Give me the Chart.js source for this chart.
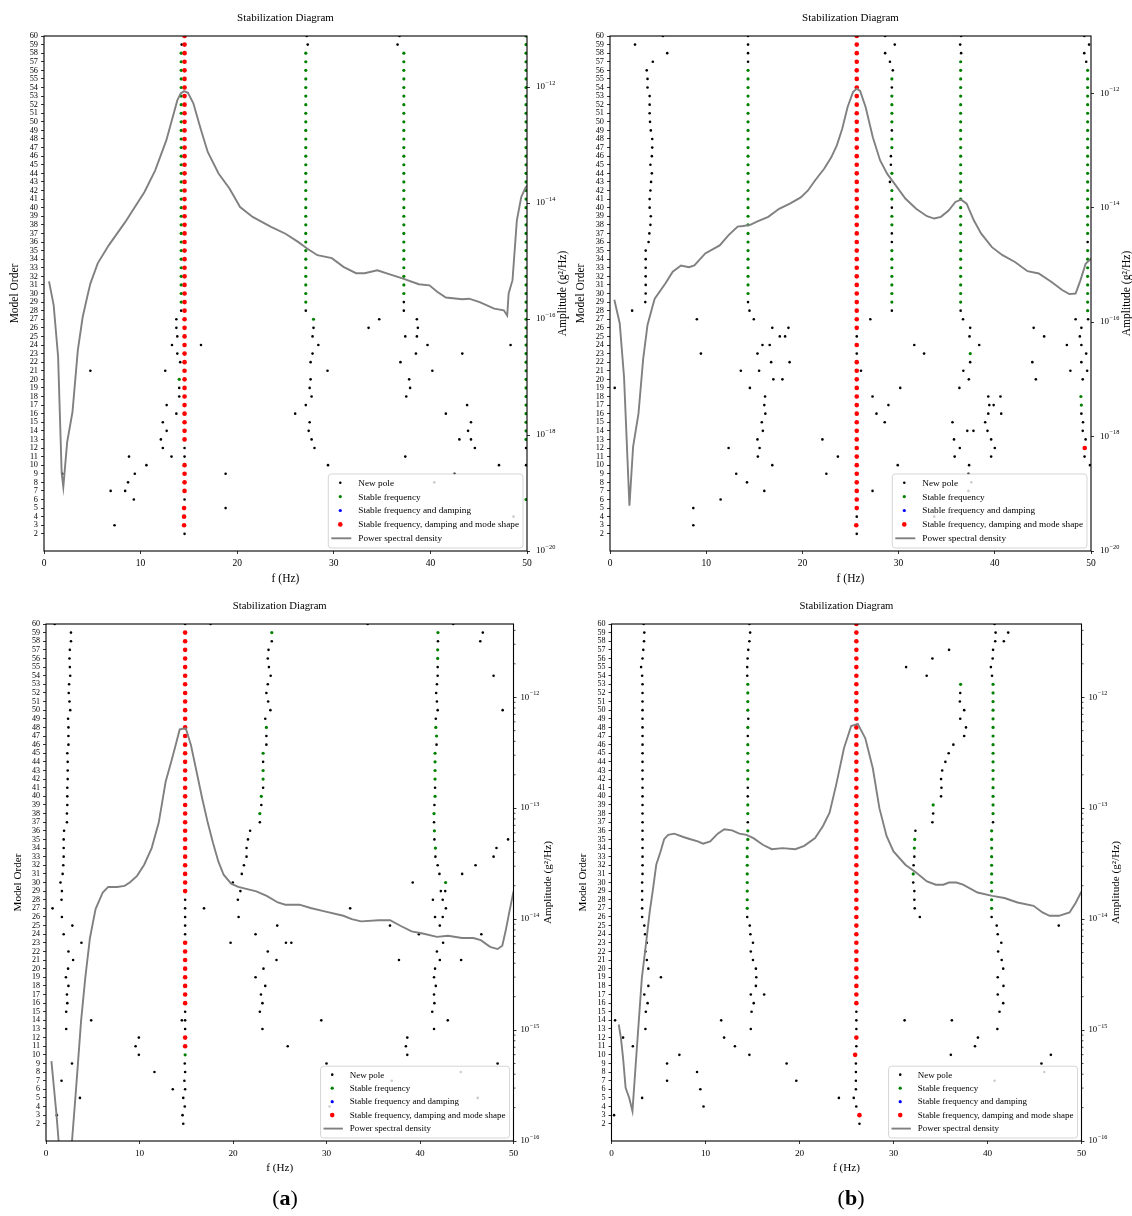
<!DOCTYPE html>
<html>
<head>
<meta charset="utf-8">
<title>Stabilization Diagrams</title>
<script src="https://cdn.jsdelivr.net/npm/chart.js@4.4.1/dist/chart.umd.min.js"></script>
<style>
  html, body { margin: 0; padding: 0; background: #fff; }
  #page { position: relative; width: 1132px; height: 1216px; overflow: hidden; background: #fff; }
  canvas { position: absolute; }
  .tag { position: absolute; top: 1185px; width: 60px; text-align: center; font: 22px "Liberation Serif", serif; color: #000; }
</style>
</head>
<body>
<div id="page">
  <canvas id="aTop" width="580" height="600" style="left:0px;top:0px"></canvas>
  <canvas id="bTop" width="557" height="600" style="left:575px;top:0px"></canvas>
  <canvas id="aBot" width="580" height="626" style="left:0px;top:590px"></canvas>
  <canvas id="bBot" width="557" height="626" style="left:575px;top:590px"></canvas>
  <div class="tag" style="left:255px">(<b>a</b>)</div>
  <div class="tag" style="left:821px">(<b>b</b>)</div>
</div>
<script>
// tick labels
var freqTicks = [0, 10, 20, 30, 40, 50];
var orderTicks = [2, 3, 4, 5, 6, 7, 8, 9, 10, 11, 12, 13, 14, 15, 16, 17, 18, 19, 20, 21, 22, 23, 24, 25, 26, 27, 28, 29, 30,
  31, 32, 33, 34, 35, 36, 37, 38, 39, 40, 41, 42, 43, 44, 45, 46, 47, 48, 49, 50, 51, 52, 53, 54, 55, 56, 57, 58, 59, 60];
var topAmpExp = [-20, -18, -16, -14, -12];
var botAmpExp = [-16, -15, -14, -13, -12];

// ---------- top left (a) ----------
// stable columns: [frequency, [model orders]]
var aTopStableAll = [
  [14.5, [3, 4, 5]],
  [14.55, [7, 8, 9, 10, 13, 14, 15, 16, 17, 18, 19, 20, 21, 22, 23, 24, 25, 26, 27, 28, 29, 30, 31, 32, 33, 34, 35, 36, 37,
    38, 39, 40, 41, 42, 43, 44, 45, 46, 47, 48, 49, 50, 51, 52, 53, 54, 55, 56, 57, 58, 59, 60]]
];
var aTopStableDamp = [];
var aTopStableFreq = [
  [14.2, [29, 30, 31, 32, 33, 34, 35, 36, 37, 38, 39, 40, 41, 42, 43, 44, 45, 46, 47, 48, 49, 50, 51, 52, 53, 54, 55, 56, 57, 58]],
  [14.0, [20]],
  [27.1, [29, 30, 31, 32, 33, 34, 35, 36, 37, 38, 39, 40, 41, 42, 43, 44, 45, 46, 47, 48, 49, 50, 51, 52, 53, 54, 55, 56, 57, 58]],
  [27.9, [27]],
  [37.25, [30, 31, 32, 33, 34, 35, 36, 37, 38, 39, 40, 41, 42, 43, 44, 45, 46, 47, 48, 49, 50, 51, 52, 53, 54, 55, 56, 57, 58]],
  [49.9, [6, 13, 14, 15, 16, 17, 18, 19, 20, 21, 22, 23, 24, 25, 26, 27, 28, 29, 30, 31, 32, 33, 34, 35, 36, 37, 38, 39, 40,
    41, 42, 43, 44, 45, 46, 47, 48, 49, 50, 51, 52, 53, 54, 55, 56, 57, 58, 59, 60]]
];
// new poles: [frequency, model order]
var aTopNewPole = [
  [27.2, 60], [36.8, 60], [14.25, 59], [27.3, 59], [36.6, 59],
  [14.2, 28], [27.1, 28], [37.25, 28], [37.25, 29],
  [13.7, 27], [34.7, 27], [38.6, 27],
  [13.7, 26], [27.9, 26], [33.6, 26], [38.7, 26],
  [13.8, 25], [27.8, 25], [37.4, 25], [38.6, 25],
  [13.25, 24], [16.25, 24], [28.4, 24], [39.7, 24], [48.3, 24],
  [13.8, 23], [27.8, 23], [38.5, 23], [43.3, 23],
  [14.1, 22], [27.6, 22], [36.9, 22],
  [4.8, 21], [12.55, 21], [29.35, 21], [40.2, 21],
  [27.6, 20], [37.8, 20],
  [14.0, 19], [27.5, 19], [37.9, 19],
  [14.0, 18], [27.7, 18], [37.5, 18],
  [12.7, 17], [27.1, 17], [43.8, 17],
  [13.7, 16], [26.0, 16], [41.6, 16],
  [12.3, 15], [27.5, 15], [44.2, 15],
  [12.7, 14], [27.4, 14], [43.9, 14],
  [12.1, 13], [27.7, 13], [43.0, 13], [44.2, 13],
  [12.3, 12], [14.55, 12], [28.0, 12], [44.6, 12], [49.9, 12],
  [8.8, 11], [13.2, 11], [14.55, 11], [37.4, 11],
  [10.6, 10], [29.4, 10], [47.1, 10], [49.9, 10],
  [1.9, 9], [9.4, 9], [18.8, 9], [42.5, 9],
  [8.7, 8], [40.4, 8], [6.9, 7], [8.4, 7], [9.3, 6], [14.55, 6],
  [18.8, 5], [48.6, 4], [7.3, 3], [14.55, 2]
];
var aTopPsdF = [0.52, 1.0, 1.46, 1.83, 2.0, 2.4, 2.95, 3.5, 4.0, 4.5, 4.8, 5.56, 6.7, 8.4, 10.4, 11.5, 12.66, 13.8, 14.15, 14.5,
  14.9, 15.46, 16.2, 16.95, 18.07, 19.2, 20.3, 21.6, 23.5, 25.0, 26.3, 27.2, 28.3, 29.8, 31.0, 32.3, 33.2, 34.5, 35.8, 37.1,
  38.8, 39.9, 40.7, 41.6, 43.3, 44.0, 45.1, 46.6, 47.6, 47.95, 48.1, 48.5, 48.95, 49.4, 49.8, 50];
var aTopPsdLog = [-15.35, -15.76, -16.65, -18.66, -18.9, -18.12, -17.6, -16.54, -15.97, -15.6, -15.39, -15.04, -14.73, -14.33,
  -13.81, -13.44, -12.92, -12.23, -12.11, -12.07, -12.1, -12.28, -12.71, -13.12, -13.49, -13.75, -14.07, -14.24, -14.41, -14.53,
  -14.67, -14.78, -14.9, -14.95, -15.1, -15.21, -15.21, -15.16, -15.23, -15.3, -15.4, -15.42, -15.53, -15.63, -15.66, -15.65,
  -15.71, -15.82, -15.85, -15.94, -15.56, -15.33, -14.3, -13.9, -13.75, -13.7];

// ---------- top right (b) ----------
var bTopStableAll = [
  [25.6, [3]],
  [25.65, [5, 6, 7, 8, 9, 10, 11, 12, 13, 14, 15, 16, 17, 18, 19, 20, 21, 22, 24, 26, 27, 28, 29, 30, 31, 32, 33, 34, 35, 36,
    37, 38, 39, 40, 41, 42, 43, 44, 45, 46, 47, 48, 49, 50, 51, 52, 53, 54, 55, 56, 57, 58, 59, 60]],
  [49.35, [12]]
];
var bTopStableDamp = [];
var bTopStableFreq = [
  [14.35, [30, 31, 32, 33, 34, 35, 36, 37, 38, 39, 40, 41, 42, 43, 44, 45, 46, 47, 48, 49, 50, 51, 52, 53, 54, 55, 56]],
  [29.3, [29, 30, 31, 32, 33, 34, 35, 38, 39, 41, 42, 44, 47, 48, 50, 51, 52, 53, 55]],
  [36.45, [29, 30, 31, 32, 33, 34, 35, 36, 37, 38, 39, 40, 41, 42, 43, 44, 45, 46, 47, 48, 49, 50, 51, 52, 53, 54, 55, 56, 57]],
  [37.45, [23]],
  [49.65, [28, 29, 30, 31, 32, 33, 34, 35, 37, 38, 39, 40, 41, 42, 43, 44, 45, 46, 47, 48, 49, 50, 51, 52, 53, 54, 55, 56]],
  [48.95, [18]], [49.0, [17]]
];
var bTopNewPole = [
  [14.35, 57], [14.35, 58], [14.35, 59], [14.35, 60], [14.35, 29], [14.5, 28], [14.95, 27],
  [25.65, 2], [25.65, 4], [25.65, 23], [25.65, 25],
  [29.3, 28], [29.3, 36], [29.3, 37], [29.3, 40], [29.1, 43], [29.2, 45], [29.2, 46], [29.3, 49], [29.3, 54], [29.4, 56],
  [29.1, 57], [28.6, 58], [29.6, 59], [28.6, 60],
  [36.45, 28], [36.7, 27], [36.5, 58], [36.4, 59], [36.5, 60],
  [49.65, 36], [49.7, 27], [49.5, 57], [49.3, 58], [49.8, 59], [49.3, 60],
  [5.5, 60], [2.6, 59], [5.95, 58], [4.45, 57], [3.82, 56], [3.9, 55], [3.9, 54], [4.12, 53], [4.12, 52], [4.12, 51],
  [4.16, 50], [4.24, 49], [4.39, 48], [4.39, 47], [4.35, 46], [4.2, 45], [4.35, 44], [4.27, 43], [4.2, 42], [4.12, 41],
  [4.12, 40], [4.24, 39], [4.2, 38], [4.09, 37], [4.01, 36], [3.71, 35], [3.71, 34], [3.71, 33], [3.71, 32], [3.71, 31],
  [3.71, 30], [3.67, 29], [2.3, 28],
  [9.03, 27], [27.06, 27], [48.4, 27],
  [16.87, 26], [18.55, 26], [37.44, 26], [44.04, 26], [49.0, 26],
  [17.65, 25], [18.2, 25], [37.37, 25], [45.13, 25], [48.84, 25],
  [15.85, 24], [16.6, 24], [31.63, 24], [38.38, 24], [47.49, 24], [49.0, 24],
  [9.45, 23], [15.33, 23], [32.65, 23], [49.5, 23],
  [16.75, 22], [18.67, 22], [37.44, 22], [43.9, 22], [49.0, 22],
  [13.6, 21], [15.5, 21], [26.09, 21], [36.73, 21], [47.86, 21], [49.6, 21],
  [16.98, 20], [17.92, 20], [37.3, 20], [44.27, 20], [49.14, 20],
  [0.49, 19], [14.54, 19], [30.17, 19], [36.32, 19],
  [16.12, 18], [27.29, 18], [39.32, 18], [40.59, 18],
  [16.04, 17], [28.94, 17], [39.43, 17], [39.88, 17],
  [16.15, 16], [27.7, 16], [39.32, 16], [40.67, 16], [49.0, 16],
  [15.78, 15], [28.56, 15], [35.6, 15], [39.0, 15], [49.17, 15],
  [15.89, 14], [37.14, 14], [37.78, 14], [39.24, 14], [49.14, 14],
  [15.33, 13], [22.08, 13], [35.76, 13], [39.62, 13], [49.44, 13],
  [12.33, 12], [15.55, 12], [36.36, 12], [40.0, 12],
  [15.37, 11], [23.69, 11], [35.83, 11], [39.62, 11], [49.33, 11],
  [16.87, 10], [29.91, 10], [37.33, 10], [49.89, 10],
  [13.12, 9], [22.49, 9], [37.26, 9], [14.24, 8], [37.56, 8],
  [16.04, 7], [27.29, 7], [37.26, 7], [11.5, 6], [8.66, 5], [33.7, 4], [8.66, 3]
];
var bTopPsdF = [0.45, 1.01, 1.46, 2.02, 2.4, 2.96, 3.45, 3.9, 4.46, 4.65, 5.77, 6.52, 7.38, 8.2, 8.77, 9.9, 11.4, 12.33, 13.27,
  13.83, 14.58, 15.33, 16.45, 17.58, 18.7, 19.83, 20.58, 21.33, 22.26, 23.0, 23.58, 24.14, 24.7, 25.26, 25.64, 26.0, 26.57,
  27.32, 28.07, 28.82, 29.57, 30.7, 31.82, 32.95, 33.7, 34.4, 35.2, 35.9, 36.5, 37.07, 37.82, 38.57, 39.7, 40.8, 42.1, 43.4,
  44.57, 45.9, 47.0, 47.75, 48.4, 48.9, 49.44, 50];
var bTopPsdLog = [-15.61, -16.02, -16.96, -19.21, -18.18, -17.6, -16.64, -16.05, -15.7, -15.59, -15.32, -15.12, -15.01, -15.04,
  -15.01, -14.8, -14.66, -14.48, -14.33, -14.32, -14.3, -14.24, -14.16, -14.02, -13.93, -13.82, -13.7, -13.52, -13.32, -13.12,
  -12.91, -12.62, -12.24, -11.98, -11.92, -11.96, -12.24, -12.77, -13.17, -13.41, -13.58, -13.84, -14.02, -14.15, -14.19,
  -14.16, -14.05, -13.9, -13.86, -13.93, -14.22, -14.45, -14.69, -14.83, -14.95, -15.11, -15.15, -15.3, -15.44, -15.51, -15.5,
  -15.27, -14.98, -14.89];

// ---------- bottom left (a) ----------
var aBotStableAll = [
  [14.88, [11, 12, 16, 17, 18, 19, 20, 21, 22, 23, 29, 30, 31, 32, 33, 34, 35, 36, 37, 38, 39, 40, 41, 42, 43, 44, 45, 46, 47,
    48, 49, 50, 51, 52, 53, 54, 55, 56, 57, 58, 59]]
];
var aBotStableDamp = [];
var aBotStableFreq = [
  [14.88, [10]],
  [24.15, [59]], [23.57, [48]], [23.22, [42, 43, 45]], [23.03, [40]], [22.87, [38]],
  [41.92, [59]], [41.89, [56, 57]], [41.69, [48]], [41.77, [47]], [41.61, [40, 42, 43, 44, 45]], [41.5, [38]],
  [41.54, [36]], [41.65, [34]], [42.74, [30]]
];
var aBotNewPole = [
  [14.88, 60], [14.88, 28], [14.88, 27], [14.88, 26], [14.88, 25], [14.88, 24], [14.88, 15], [14.88, 14], [14.53, 14],
  [14.88, 13], [14.84, 9], [14.88, 8], [14.8, 7], [14.88, 6], [13.56, 6], [14.68, 5], [14.84, 4], [14.6, 3], [14.68, 2],
  [0.93, 60], [2.67, 59], [2.67, 58], [2.55, 57], [2.51, 56], [2.55, 55], [2.59, 54], [2.47, 53], [2.43, 52], [2.51, 51],
  [2.59, 50], [2.36, 49], [2.4, 48], [2.4, 47], [2.4, 46], [2.28, 45], [2.32, 44], [2.32, 43], [2.32, 42], [2.28, 41],
  [2.28, 40], [2.28, 39], [2.24, 38], [2.24, 37], [1.93, 36], [1.89, 35], [1.89, 34], [1.89, 33], [1.85, 32], [1.78, 31],
  [1.55, 30], [1.7, 29], [1.66, 28], [0.7, 27], [1.7, 26], [2.82, 25], [1.89, 24], [3.79, 23], [2.4, 22], [2.9, 21],
  [2.36, 20], [2.13, 19], [2.4, 18], [2.24, 17], [2.28, 16], [2.16, 15], [4.83, 14], [2.16, 13], [2.78, 9], [1.66, 7],
  [3.63, 5], [1.16, 3],
  [9.93, 12], [9.58, 11], [9.93, 10], [11.6, 8],
  [17.6, 60], [24.15, 58], [23.8, 57], [23.72, 56], [23.84, 55], [24.03, 54], [23.72, 53], [23.57, 52], [23.76, 51],
  [24.0, 50], [23.45, 49], [23.57, 47], [23.57, 46], [23.22, 44], [23.22, 41], [23.03, 39], [22.87, 37], [21.83, 36],
  [21.6, 35], [21.45, 34], [21.45, 33], [21.17, 32], [20.94, 31], [19.98, 30], [20.79, 29], [20.52, 28], [16.9, 27],
  [32.53, 27], [20.6, 26], [24.73, 25], [22.41, 24], [19.74, 23], [25.66, 23], [26.24, 23], [23.72, 22], [24.65, 21],
  [23.26, 20], [22.41, 19], [23.45, 18], [22.99, 17], [23.15, 16], [22.87, 15], [29.44, 14], [23.15, 13], [25.85, 11],
  [30.0, 9],
  [34.4, 60], [43.55, 60], [46.72, 59], [41.92, 58], [46.45, 58], [41.89, 55], [41.89, 54], [47.87, 54], [41.81, 53],
  [41.73, 52], [41.81, 51], [41.89, 50], [48.84, 50], [41.69, 49], [41.77, 46], [41.61, 41], [41.54, 39], [41.5, 37],
  [41.54, 35], [49.42, 35], [48.18, 34], [41.65, 33], [47.87, 33], [41.89, 32], [45.94, 32], [42.08, 31], [44.51, 31],
  [39.22, 30], [42.23, 29], [42.7, 29], [41.38, 28], [42.43, 28], [42.77, 27], [41.61, 26], [42.43, 26], [42.12, 25],
  [36.79, 25], [39.88, 24], [46.56, 24], [42.47, 23], [41.81, 22], [42.12, 21], [37.75, 21], [44.4, 21], [41.61, 20],
  [41.5, 19], [41.69, 18], [41.5, 17], [41.54, 16], [41.31, 15], [42.97, 14], [41.5, 13], [38.64, 12], [38.49, 11],
  [38.64, 10], [48.3, 9], [44.36, 8], [36.98, 7], [46.17, 5], [30.33, 4]
];
var aBotPsdF = [0.58, 0.85, 1.12, 1.35, 2.0, 2.78, 3.17, 3.75, 4.2, 4.7, 5.3, 6.07, 6.65, 7.6, 8.4, 8.96, 9.74, 10.5, 11.3,
  12.06, 12.8, 13.4, 13.87, 14.3, 14.95, 15.5, 16.1, 16.7, 17.27, 17.85, 18.43, 19.0, 19.8, 20.56, 22.5, 23.6, 24.8, 25.6,
  27.1, 28.3, 29.8, 31.8, 32.7, 33.7, 35.6, 36.8, 37.9, 39.1, 40.3, 41.8, 43.0, 44.5, 45.7, 46.5, 47.5, 48.3, 48.8, 49.15,
  49.5, 50];
var aBotPsdLog = [-15.28, -15.52, -15.76, -16.0, -16.8, -16.0, -15.58, -14.92, -14.53, -14.17, -13.91, -13.76, -13.71, -13.71,
  -13.7, -13.67, -13.61, -13.51, -13.36, -13.13, -12.76, -12.58, -12.43, -12.29, -12.28, -12.43, -12.67, -12.91, -13.12,
  -13.31, -13.48, -13.6, -13.68, -13.71, -13.75, -13.79, -13.85, -13.87, -13.87, -13.9, -13.93, -13.97, -14.0, -14.02,
  -14.01, -14.01, -14.06, -14.11, -14.13, -14.16, -14.15, -14.17, -14.17, -14.19, -14.25, -14.27, -14.24, -14.11, -13.96,
  -13.75];

// ---------- bottom right (b) ----------
var bBotStableAll = [
  [26.05, [12, 16, 17, 18, 19, 20, 21, 22, 23, 24, 25, 26, 27, 28, 29, 30, 31, 32, 33, 34, 35, 36, 37, 38, 39, 40, 41, 42, 43,
    44, 45, 46, 47, 48, 49, 50, 51, 52, 53, 54, 55, 56, 57, 58, 59, 60]],
  [25.92, [10]], [26.38, [3]]
];
var bBotStableDamp = [];
var bBotStableFreq = [
  [14.5, [35, 36, 38, 39, 42, 43, 44, 45, 46, 48, 50, 51, 52, 53]],
  [14.44, [27, 28, 29, 30, 31, 32, 33, 34]],
  [32.26, [35]], [32.22, [34]], [32.1, [31]],
  [37.14, [53]], [34.22, [39]],
  [40.59, [38, 39, 40, 41, 42, 43, 44, 45, 46, 47, 48, 49, 50, 51, 52, 53]],
  [40.44, [27, 28, 29, 30, 31, 32, 33, 34, 35, 36]]
];
var bBotNewPole = [
  [3.42, 60], [3.49, 59], [3.46, 58], [3.38, 57], [3.3, 56], [3.15, 55], [3.26, 54], [3.3, 53], [3.3, 52], [3.3, 51],
  [3.3, 50], [3.3, 49], [3.3, 48], [3.3, 47], [3.3, 46], [3.3, 45], [3.3, 44], [3.3, 43], [3.3, 42], [3.3, 41], [3.3, 40],
  [3.3, 39], [3.3, 38], [3.3, 37], [3.3, 36], [3.3, 35], [3.3, 34], [3.3, 33], [3.3, 32], [3.3, 31], [3.26, 30], [3.26, 29],
  [3.26, 28], [3.26, 27], [3.26, 26], [3.49, 25], [3.57, 24], [3.76, 23], [3.61, 22], [3.76, 21], [3.92, 20], [3.92, 18],
  [3.49, 17], [3.84, 16], [3.65, 15], [3.61, 13], [3.26, 5],
  [5.26, 19], [0.38, 14], [11.67, 14], [1.23, 12], [11.98, 12], [2.27, 11], [13.13, 11], [7.22, 10], [14.67, 10], [5.91, 9],
  [18.63, 9], [9.1, 8], [5.91, 7], [19.66, 7], [9.45, 6], [24.19, 5], [9.79, 4], [0.27, 3],
  [14.67, 60], [14.75, 59], [14.67, 58], [14.55, 57], [14.48, 56], [14.44, 55], [14.44, 54], [14.55, 49], [14.5, 47],
  [14.5, 41], [14.5, 40], [14.5, 37], [14.44, 26], [14.71, 25], [14.78, 24], [15.05, 23], [14.82, 22], [15.05, 21],
  [15.36, 20], [15.4, 19], [15.36, 18], [14.82, 17], [16.24, 17], [15.13, 16], [14.9, 15], [14.82, 13],
  [26.05, 15], [26.05, 14], [26.05, 13], [26.05, 11], [26.0, 9], [26.0, 8], [26.0, 7], [26.0, 6], [25.77, 5], [26.04, 4],
  [26.38, 2],
  [32.33, 36], [32.22, 33], [32.14, 32], [32.1, 30], [32.22, 29], [32.22, 28], [32.26, 27], [32.8, 26], [31.18, 14],
  [36.21, 14],
  [35.91, 57], [34.14, 56], [31.34, 55], [33.53, 54], [37.1, 52], [37.06, 51], [37.52, 50], [37.1, 49], [37.71, 48],
  [37.52, 47], [36.37, 46], [35.87, 45], [35.52, 44], [35.18, 43], [35.06, 42], [35.1, 41], [35.06, 40], [34.22, 38],
  [34.14, 37],
  [40.75, 60], [40.86, 59], [42.2, 59], [40.82, 58], [41.74, 58], [40.59, 57], [40.55, 56], [40.36, 55], [40.48, 54],
  [40.59, 37], [40.44, 26], [40.98, 25], [41.09, 24], [41.47, 23], [41.13, 22], [41.51, 21], [41.67, 20], [41.09, 19],
  [41.7, 18], [41.09, 17], [41.67, 16], [41.28, 15], [41.05, 13], [38.98, 12], [38.67, 11], [36.1, 10], [46.74, 10],
  [45.74, 9], [46.04, 8], [40.75, 7], [47.58, 25]
];
var bBotPsdF = [0.77, 1.0, 1.23, 1.5, 1.88, 2.23, 2.65, 3.23, 3.7, 4.07, 4.38, 4.76, 5.22, 5.6, 6.03, 6.68, 7.64, 8.4, 9.18,
  9.75, 10.5, 11.3, 12.0, 12.83, 13.6, 14.36, 15.1, 16.1, 17.05, 18.2, 19.55, 20.5, 21.66, 22.5, 23.2, 23.9, 24.73, 25.5,
  26.2, 27.0, 27.8, 28.5, 29.26, 30.0, 31.26, 32.4, 33.56, 34.5, 35.3, 35.9, 36.7, 37.4, 38.94, 40.5, 41.8, 43.2, 44.9,
  45.85, 46.6, 47.6, 48.73, 49.4, 50];
var bBotPsdLog = [-14.95, -15.07, -15.25, -15.52, -15.61, -15.73, -15.22, -14.53, -14.2, -13.93, -13.75, -13.51, -13.39,
  -13.28, -13.24, -13.23, -13.26, -13.28, -13.3, -13.32, -13.3, -13.23, -13.19, -13.2, -13.23, -13.24, -13.27, -13.33,
  -13.37, -13.36, -13.37, -13.34, -13.27, -13.16, -13.04, -12.79, -12.46, -12.26, -12.24, -12.37, -12.64, -13.0, -13.25,
  -13.39, -13.51, -13.58, -13.66, -13.69, -13.69, -13.67, -13.67, -13.69, -13.76, -13.79, -13.81, -13.85, -13.88, -13.94,
  -13.97, -13.97, -13.94, -13.85, -13.75];

Chart.defaults.font.family = '"Liberation Serif", "Times New Roman", serif';
Chart.defaults.color = '#000';

function cols(list) {
  var out = [];
  list.forEach(function (c) {
    c[1].forEach(function (o) { out.push({x: c[0], y: o}); });
  });
  return out;
}
function pts(list) {
  return list.map(function (p) { return {x: p[0], y: p[1]}; });
}
function psd(fs, logs) {
  return fs.map(function (f, i) { return {x: f, y: Math.pow(10, logs[i])}; });
}
function serif(px) { return px + 'px "Liberation Serif", "Times New Roman", serif'; }

var decor = {
  id: 'decor',
  afterDraw: function (chart, args, o) {
    var ctx = chart.ctx, a = chart.chartArea, fs = o.fs;
    var y2 = chart.scales.y2;
    ctx.save();
    // frame
    ctx.strokeStyle = '#000';
    ctx.lineWidth = 1.1;
    ctx.strokeRect(a.left, a.top, a.right - a.left, a.bottom - a.top);

    // minor log ticks
    if (o.minor) {
      ctx.lineWidth = 0.7;
      for (var e = -17; e <= -11; e++) {
        for (var m = 2; m <= 9; m++) {
          var py = y2.getPixelForValue(m * Math.pow(10, e));
          if (py < a.top || py > a.bottom) continue;
          ctx.beginPath();
          ctx.moveTo(a.right, py);
          ctx.lineTo(a.right + 2, py);
          ctx.stroke();
        }
      }
    }

    // right tick labels 10^n
    ctx.fillStyle = '#000';
    ctx.textBaseline = 'middle';
    ctx.textAlign = 'left';
    o.exps.forEach(function (ex) {
      var py = y2.getPixelForValue(Math.pow(10, ex));
      var x0 = a.right + o.rightPad;
      ctx.font = serif(9 * fs);
      ctx.fillText('10', x0, py);
      var w = ctx.measureText('10').width;
      ctx.font = serif(6.3 * fs);
      ctx.fillText('\u2212' + Math.abs(ex), x0 + w + 0.5, py - 4 * fs);
    });

    // titles
    var cx = (a.left + a.right) / 2, cy = (a.top + a.bottom) / 2;
    ctx.textAlign = 'center';
    ctx.font = serif(11 * fs);
    ctx.fillText('Stabilization Diagram', cx, a.top - 18 * fs);
    ctx.font = serif(11.5 * fs);
    ctx.fillText('f (Hz)', cx, a.bottom + 28 * fs);
    ctx.save();
    ctx.translate(a.left - 29 * fs, cy);
    ctx.rotate(-Math.PI / 2);
    ctx.fillText('Model Order', 0, 0);
    ctx.restore();
    ctx.save();
    ctx.translate(a.right + 36 * fs, cy);
    ctx.rotate(-Math.PI / 2);
    ctx.fillText('Amplitude (g\u00b2/Hz)', 0, 0);
    ctx.restore();

    // legend
    var items = [4, 3, 2, 1, 0].map(function (i) { return chart.data.datasets[i]; });
    ctx.font = serif(10);
    var longest = ctx.measureText(items[3].label).width;
    var lf = 10 * o.legendText / longest;
    ctx.font = serif(lf);
    var maxW = 0;
    items.forEach(function (d) { maxW = Math.max(maxW, ctx.measureText(d.label).width); });
    var bw = 30 * fs + maxW + 4, bh = 74 * fs;
    var bx = a.right - 4 - bw, by = a.bottom - 3 - bh;
    ctx.beginPath();
    ctx.roundRect(bx, by, bw, bh, 3);
    ctx.fillStyle = 'rgba(255,255,255,0.8)';
    ctx.fill();
    ctx.strokeStyle = 'rgba(204,204,204,0.8)';
    ctx.lineWidth = 1;
    ctx.stroke();
    ctx.textAlign = 'left';
    items.forEach(function (d, k) {
      var ry = by + (8.7 + 13.9 * k) * fs;
      if (d.showLine) {
        ctx.strokeStyle = d.borderColor;
        ctx.lineWidth = d.borderWidth;
        ctx.beginPath();
        ctx.moveTo(bx + 3 * fs, ry);
        ctx.lineTo(bx + 23 * fs, ry);
        ctx.stroke();
      } else {
        ctx.fillStyle = d.backgroundColor;
        ctx.beginPath();
        ctx.arc(bx + 12 * fs, ry, d.pointRadius, 0, Math.PI * 2);
        ctx.fill();
      }
      ctx.fillStyle = '#000';
      ctx.fillText(d.label, bx + 30 * fs, ry + 0.5);
    });
    ctx.restore();
  }
};

function buildPanel(id, geo, d) {
  var canvas = document.getElementById(id);
  var W = canvas.width, H = canvas.height;
  var grid = {drawOnChartArea: false, drawTicks: true, tickLength: 3, color: '#000', lineWidth: 0.8};
  new Chart(canvas, {
    type: 'scatter',
    data: {
      datasets: [
        {label: 'Power spectral density', data: psd(d.psdF, d.psdLog), yAxisID: 'y2', showLine: true,
          borderColor: '#808080', borderWidth: 1.9, pointRadius: 0, order: 0, clip: 0},
        {label: 'Stable frequency, damping and mode shape', data: cols(d.all), yAxisID: 'y',
          backgroundColor: '#ff0000', borderWidth: 0, pointRadius: 2.3, order: 1, clip: 0},
        {label: 'Stable frequency and damping', data: cols(d.damp), yAxisID: 'y',
          backgroundColor: '#0000ff', borderWidth: 0, pointRadius: 1.6, order: 2, clip: 0},
        {label: 'Stable frequency', data: cols(d.freq), yAxisID: 'y',
          backgroundColor: '#008000', borderWidth: 0, pointRadius: 1.6, order: 3, clip: 0},
        {label: 'New pole', data: pts(d.pole), yAxisID: 'y',
          backgroundColor: '#000000', borderWidth: 0, pointRadius: 1.3, order: 4, clip: 0}
      ]
    },
    options: {
      responsive: false,
      animation: false,
      events: [],
      layout: {padding: {top: geo.top, left: 0, right: 0, bottom: 0}},
      plugins: {
        legend: {display: false},
        title: {display: false},
        tooltip: {enabled: false},
        decor: {fs: geo.fs, exps: geo.exps, minor: geo.minor, rightPad: geo.rightPad, legendText: geo.legendText}
      },
      scales: {
        x: {
          type: 'linear', min: 0, max: 50,
          afterBuildTicks: function (s) { s.ticks = freqTicks.map(function (v) { return {value: v}; }); },
          afterFit: function (s) { s.height = H - geo.bottom; },
          grid: grid, border: {display: false},
          ticks: {font: {size: 9.5 * geo.fs}, color: '#000', padding: 4, maxRotation: 0, autoSkip: false}
        },
        y: {
          type: 'linear', position: 'left', min: 0, max: 60,
          afterBuildTicks: function (s) { s.ticks = orderTicks.map(function (v) { return {value: v}; }); },
          afterFit: function (s) { s.width = geo.left; },
          grid: grid, border: {display: false},
          ticks: {font: {size: 8.3 * geo.fs}, color: '#000', padding: 3, autoSkip: false}
        },
        y2: {
          type: 'logarithmic', position: 'right', min: geo.ampMin, max: geo.ampMax,
          afterBuildTicks: function (s) { s.ticks = geo.exps.map(function (e) { return {value: Math.pow(10, e)}; }); },
          afterFit: function (s) { s.width = W - geo.right; },
          grid: grid, border: {display: false},
          ticks: {display: false}
        }
      }
    },
    plugins: [decor]
  });
}

buildPanel('aTop',
  {left: 44, right: 527, top: 36, bottom: 551, fs: 1, exps: topAmpExp, minor: false, rightPad: 9, legendText: 161,
    ampMin: 1e-20, ampMax: Math.pow(10, -11.12)},
  {all: aTopStableAll, damp: aTopStableDamp, freq: aTopStableFreq, pole: aTopNewPole, psdF: aTopPsdF, psdLog: aTopPsdLog});
buildPanel('bTop',
  {left: 35, right: 516, top: 36, bottom: 551, fs: 1, exps: topAmpExp, minor: false, rightPad: 9, legendText: 161,
    ampMin: 1e-20, ampMax: Math.pow(10, -11.0)},
  {all: bTopStableAll, damp: bTopStableDamp, freq: bTopStableFreq, pole: bTopNewPole, psdF: bTopPsdF, psdLog: bTopPsdLog});
buildPanel('aBot',
  {left: 46, right: 513.5, top: 34, bottom: 551, fs: 0.97, exps: botAmpExp, minor: true, rightPad: 7, legendText: 156,
    ampMin: 1e-16, ampMax: Math.pow(10, -11.34)},
  {all: aBotStableAll, damp: aBotStableDamp, freq: aBotStableFreq, pole: aBotNewPole, psdF: aBotPsdF, psdLog: aBotPsdLog});
buildPanel('bBot',
  {left: 36.5, right: 506.5, top: 34, bottom: 551, fs: 0.97, exps: botAmpExp, minor: true, rightPad: 7, legendText: 156,
    ampMin: 1e-16, ampMax: Math.pow(10, -11.34)},
  {all: bBotStableAll, damp: bBotStableDamp, freq: bBotStableFreq, pole: bBotNewPole, psdF: bBotPsdF, psdLog: bBotPsdLog});
</script>
</body>
</html>
